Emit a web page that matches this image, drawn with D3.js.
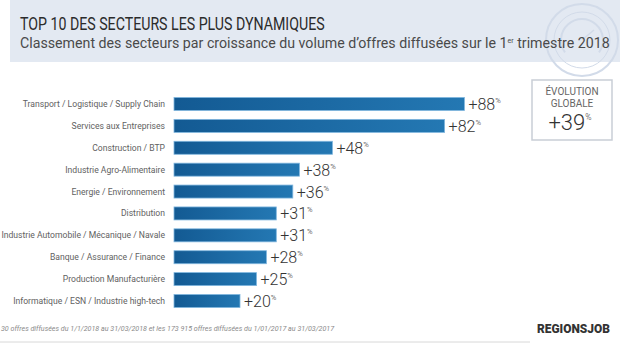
<!DOCTYPE html>
<html>
<head>
<meta charset="utf-8">
<script src="https://cdn.jsdelivr.net/npm/d3@7"></script>
<style>
  html, body { margin: 0; padding: 0; background: #fff; }
  svg { display: block; font-family: Roboto, "Liberation Sans", sans-serif; }
</style>
</head>
<body>
<div id="chart"></div>
<script>
// Top 10 sectors by growth of job offers, Q1 2018
const sectors = [
  'Transport / Logistique / Supply Chain',
  'Services aux Entreprises',
  'Construction / BTP',
  'Industrie Agro-Alimentaire',
  'Energie / Environnement',
  'Distribution',
  'Industrie Automobile / Mécanique / Navale',
  'Banque / Assurance / Finance',
  'Production Manufacturière',
  'Informatique / ESN / Industrie high-tech'
];
const growth = [88, 82, 48, 38, 36, 31, 31, 28, 25, 20];
const globalGrowth = 39;

const title = 'TOP 10 DES SECTEURS LES PLUS DYNAMIQUES';
const subtitle = ['Classement des secteurs par croissance du volume d\u2019offres diffusées sur le 1', 'er', ' trimestre 2018'];
// the source image crops the start of this note; keep the visible part
const footnote = '30 offres diffusées du 1/1/2018 au 31/03/2018 et les 173 915 offres diffusées du 1/01/2017 au 31/03/2017';

const W = 620, H = 349;
const svg = d3.select('#chart').append('svg').attr('width', W).attr('height', H);

// stretch a text node horizontally so it fills a given width
function fitWidth(sel, x0, targetW) {
  const w = sel.node().getComputedTextLength();
  const k = targetW / w;
  sel.attr('transform', `translate(${x0},0) scale(${k},1) translate(${-x0},0)`);
}

// header band
svg.append('rect').attr('x', 10).attr('y', 0).attr('width', W - 10).attr('height', 62).attr('fill', '#e3e9f2');

// faint gauge watermark, top right
const wm = svg.append('g').attr('fill', 'none').attr('stroke', '#d2dbe9');
wm.append('circle').attr('cx', 582).attr('cy', 40).attr('r', 36).attr('stroke-width', 2);
wm.append('circle').attr('cx', 582).attr('cy', 40).attr('r', 28).attr('stroke-width', 1);
wm.append('path').attr('d', d3.arc()({ innerRadius: 20, outerRadius: 22, startAngle: -2.2, endAngle: 2.2 }))
  .attr('transform', 'translate(582,40)').attr('fill', '#d2dbe9').attr('stroke', 'none');
wm.append('line').attr('x1', 582).attr('y1', 40).attr('x2', 594).attr('y2', 30).attr('stroke-width', 1.5);

const t1 = svg.append('text').attr('x', 20).attr('y', 30.5)
  .attr('font-size', 18).attr('fill', '#2b2b2b').text(title);
fitWidth(t1, 20, 305);

const t2 = svg.append('text').attr('x', 20).attr('y', 48.5)
  .attr('font-size', 14).attr('fill', '#4a4a4a');
t2.append('tspan').text(subtitle[0]);
t2.append('tspan').attr('font-size', 7).attr('dy', -5).text(subtitle[1]);
t2.append('tspan').attr('dy', 5).text(subtitle[2]);
fitWidth(t2, 20, 590);

// scales
const x = d3.scaleLinear().domain([0, 100]).range([174, 504]);
const y = d3.scalePoint().domain(sectors).range([104, 301]);
const barH = 13;

const grad = svg.append('defs').append('linearGradient').attr('id', 'barGrad')
  .attr('x1', '0%').attr('x2', '100%').attr('y1', '0%').attr('y2', '0%');
grad.append('stop').attr('offset', '0%').attr('stop-color', '#135a93');
grad.append('stop').attr('offset', '100%').attr('stop-color', '#2478b3');

const rows = svg.append('g').selectAll('g').data(sectors).join('g');

rows.append('rect')
  .attr('x', x(0))
  .attr('y', d => y(d) - barH / 2)
  .attr('width', (d, i) => x(growth[i]) - x(0))
  .attr('height', barH)
  .attr('fill', 'url(#barGrad)')
  .attr('stroke', '#7fb6de')
  .attr('stroke-width', 0.8);

rows.append('text')
  .attr('x', 165)
  .attr('y', d => y(d) + 3)
  .attr('text-anchor', 'end')
  .attr('font-size', 8.6)
  .attr('fill', '#616161')
  .text(d => d);

const val = rows.append('text')
  .attr('x', (d, i) => x(growth[i]) + 4)
  .attr('y', d => y(d) + 6)
  .attr('font-size', 16)
  .attr('font-weight', 300)
  .attr('fill', '#333');
val.append('tspan').text((d, i) => '+' + growth[i]);
val.append('tspan').attr('font-size', 7.5).attr('dy', -7).text('%');

// global evolution box
const box = svg.append('g');
box.append('rect').attr('x', 532).attr('y', 80).attr('width', 80).attr('height', 60)
  .attr('fill', '#fff').attr('stroke', '#c9ced6').attr('stroke-width', 1.5);
box.append('text').attr('x', 572).attr('y', 95).attr('text-anchor', 'middle')
  .attr('font-size', 10).attr('fill', '#666').text('ÉVOLUTION');
box.append('text').attr('x', 572).attr('y', 107).attr('text-anchor', 'middle')
  .attr('font-size', 10).attr('fill', '#666').text('GLOBALE');
const gv = box.append('text').attr('x', 570).attr('y', 130).attr('text-anchor', 'middle')
  .attr('font-size', 22).attr('font-weight', 300).attr('fill', '#333');
gv.append('tspan').text('+' + globalGrowth);
gv.append('tspan').attr('font-size', 8.5).attr('dy', -10).text('%');

// footnote
const fn = svg.append('text').attr('x', 1).attr('y', 331)
  .attr('font-size', 6.6).attr('font-style', 'italic').attr('fill', '#8a8a8a').text(footnote);
fitWidth(fn, 1, 333);

svg.append('line').attr('x1', 0).attr('x2', 530).attr('y1', 342).attr('y2', 342)
  .attr('stroke', '#d8d8d8').attr('stroke-width', 1);

const logo = svg.append('text').attr('x', 537).attr('y', 333)
  .attr('font-size', 12.5).attr('font-weight', 900).attr('fill', '#333')
  .text('REGIONSJOB');
fitWidth(logo, 537, 73);
</script>
</body>
</html>
